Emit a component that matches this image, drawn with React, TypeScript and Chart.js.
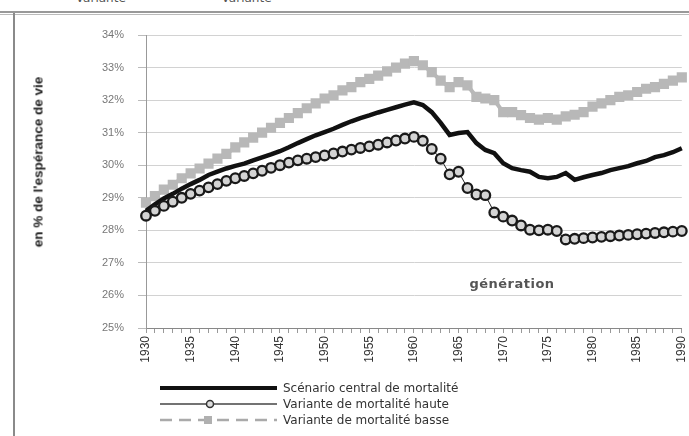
import React, { useEffect, useRef } from "react";
import { Chart, registerables } from "chart.js";

Chart.register(...registerables);

const years: string[] = [];
for (let y = 1930; y <= 1990; y++) years.push(String(y));

const yTicks = [25, 26, 27, 28, 29, 30, 31, 32, 33, 34];

// Scénario central de mortalité
const central = [
  28.6, 28.8, 28.98, 29.12, 29.28, 29.42, 29.55, 29.7, 29.8, 29.9,
  29.98, 30.05, 30.15, 30.24, 30.33, 30.43, 30.55, 30.68, 30.8, 30.92,
  31.02, 31.12, 31.24, 31.35, 31.45, 31.53, 31.62, 31.7, 31.78, 31.86,
  31.93, 31.85, 31.63, 31.3, 30.93, 30.99, 31.02, 30.68, 30.47, 30.37,
  30.06, 29.91, 29.85, 29.8, 29.64, 29.6, 29.64, 29.76, 29.55, 29.63,
  29.7, 29.76, 29.85, 29.91, 29.97, 30.06, 30.13, 30.25, 30.31, 30.4,
  30.52,
];

// Variante de mortalité haute
const haute = [
  28.45, 28.6, 28.75, 28.88, 29.0, 29.12, 29.22, 29.32, 29.42, 29.52,
  29.6, 29.67, 29.75, 29.83, 29.92, 30.0, 30.08, 30.15, 30.2, 30.25,
  30.3, 30.36, 30.42, 30.48, 30.53, 30.58, 30.63, 30.7, 30.76, 30.82,
  30.87, 30.75, 30.5, 30.2, 29.72, 29.8, 29.3, 29.1, 29.08, 28.55,
  28.42, 28.3, 28.15, 28.02, 28.0, 28.02, 27.98, 27.72, 27.74, 27.76,
  27.78, 27.8, 27.82, 27.84, 27.86, 27.88, 27.9, 27.92, 27.94, 27.96,
  27.98,
];

// Variante de mortalité basse
const basse = [
  28.85, 29.05, 29.25, 29.4, 29.6, 29.75, 29.9, 30.05, 30.2, 30.35,
  30.55, 30.7, 30.85, 31.0, 31.15, 31.3, 31.45, 31.6, 31.75, 31.9,
  32.05, 32.15, 32.3, 32.4, 32.55, 32.65, 32.75, 32.88, 33.0, 33.12,
  33.2, 33.07, 32.86, 32.6, 32.4, 32.55, 32.45, 32.1, 32.05, 32.0,
  31.63, 31.63, 31.54, 31.45, 31.4, 31.45, 31.4, 31.5, 31.55, 31.63,
  31.8, 31.9, 32.0, 32.1, 32.15, 32.25, 32.35, 32.4, 32.5, 32.6,
  32.7,
];

const legendLabels = [
  "Scénario central de mortalité",
  "Variante de mortalité haute",
  "Variante de mortalité basse",
];

export default function App() {
  const ref = useRef<HTMLCanvasElement | null>(null);

  useEffect(() => {
    if (!ref.current) return;
    const chart = new Chart(ref.current, {
      type: "line",
      data: {
        labels: years,
        datasets: [
          {
            label: legendLabels[1],
            data: haute,
            borderColor: "#222",
            borderWidth: 1,
            pointStyle: "circle",
            pointRadius: 4.8,
            pointBorderWidth: 2.3,
            pointBorderColor: "#1a1a1a",
            pointBackgroundColor: "#d4d4d4",
            tension: 0,
          },
          {
            label: legendLabels[0],
            data: central,
            borderColor: "#111",
            borderWidth: 4.5,
            pointRadius: 0,
            tension: 0,
          },
          {
            label: legendLabels[2],
            data: basse,
            borderColor: "#b8b8b8",
            borderWidth: 4,
            pointStyle: "rect",
            pointRadius: 7.2,
            pointBorderWidth: 0,
            pointBackgroundColor: "#b8b8b8",
            tension: 0,
          },
        ],
      },
      options: {
        responsive: false,
        animation: false,
        events: [],
        layout: { padding: { left: 0, top: 35, right: 6, bottom: 0 } },
        plugins: { legend: { display: false }, tooltip: { enabled: false } },
        scales: {
          x: {
            type: "category",
            offset: false,
            afterFit: (s: any) => {
              s.height = 108;
              s.paddingLeft = 0;
              s.paddingRight = 0;
            },
            border: { display: true, color: "#888", width: 1 },
            grid: {
              display: true,
              drawOnChartArea: false,
              drawTicks: true,
              tickLength: 5,
              color: "#999",
            },
            ticks: {
              autoSkip: false,
              maxRotation: 90,
              minRotation: 90,
              padding: 3,
              color: "#333",
              font: { family: "Liberation Sans", size: 12 },
              callback: (_v: any, i: number) =>
                Number(years[i]) % 5 === 0 ? years[i] : "",
            },
          },
          y: {
            min: 25,
            max: 34,
            afterFit: (s: any) => {
              s.width = 146;
            },
            afterBuildTicks: (s: any) => {
              s.ticks = yTicks.map((v) => ({ value: v }));
            },
            border: { display: true, color: "#999", width: 1 },
            grid: {
              color: "#d2d2d2",
              tickLength: 8,
              tickColor: "#bbb",
            },
            ticks: {
              padding: 14,
              color: "#777",
              font: { family: "Liberation Sans", size: 11 },
              callback: (v: any) => v + "%",
            },
          },
        },
      },
    });
    return () => chart.destroy();
  }, []);

  const legendRow = (i: number, top: number) => (
    <div
      key={i}
      style={{
        position: "absolute",
        left: 283,
        top: top - 9,
        fontFamily: "DejaVu Sans",
        fontSize: 12,
        color: "#333",
        whiteSpace: "nowrap",
        lineHeight: "18px",
      }}
    >
      {legendLabels[i]}
    </div>
  );

  return (
    <div
      style={{
        position: "absolute",
        left: 0,
        top: 0,
        width: 689,
        height: 436,
        background: "#fff",
        overflow: "hidden",
      }}
    >
      {/* cut-off text from above */}
      <div
        style={{
          position: "absolute",
          left: 60,
          top: -9,
          fontFamily: "DejaVu Sans",
          fontSize: 12,
          color: "#555",
          whiteSpace: "nowrap",
        }}
      >
        <span>— Variante</span>
        <span style={{ marginLeft: 80 }}>— Variante</span>
      </div>
      {/* frame */}
      <div style={{ position: "absolute", left: 0, top: 11, width: 689, height: 2, background: "#999" }} />
      <div style={{ position: "absolute", left: 0, top: 14, width: 689, height: 1, background: "#bbb" }} />
      <div style={{ position: "absolute", left: 13, top: 13, width: 2, height: 423, background: "#8a8a8a" }} />
      <canvas
        ref={ref}
        width={689}
        height={436}
        style={{ position: "absolute", left: 0, top: 0, width: 689, height: 436 }}
      />
      {/* y-axis title */}
      <div
        style={{
          position: "absolute",
          left: 38,
          top: 162,
          transform: "translate(-50%, -50%) rotate(-90deg)",
          fontFamily: "Liberation Sans",
          fontWeight: "bold",
          fontSize: 13.5,
          color: "#222",
          whiteSpace: "nowrap",
        }}
      >
        en % de l'espérance de vie
      </div>
      {/* annotation */}
      <div
        style={{
          position: "absolute",
          left: 512,
          top: 283,
          transform: "translate(-50%, -50%)",
          fontFamily: "DejaVu Sans",
          fontWeight: "bold",
          fontSize: 13,
          letterSpacing: 0.5,
          color: "#555",
          whiteSpace: "nowrap",
        }}
      >
        génération
      </div>
      {/* legend samples */}
      <svg
        width={689}
        height={436}
        style={{ position: "absolute", left: 0, top: 0, pointerEvents: "none" }}
      >
        <line x1={160} y1={388} x2={277} y2={388} stroke="#111" strokeWidth={4} />
        <line x1={160} y1={404} x2={277} y2={404} stroke="#444" strokeWidth={1.3} />
        <circle cx={210} cy={404} r={3.5} fill="#ddd" stroke="#333" strokeWidth={1.5} />
        <line
          x1={160}
          y1={420}
          x2={277}
          y2={420}
          stroke="#aaa"
          strokeWidth={2.5}
          strokeDasharray="12 7"
        />
        <rect x={204} y={416} width={8} height={8} fill="#b0b0b0" />
      </svg>
      {legendRow(0, 388)}
      {legendRow(1, 404)}
      {legendRow(2, 420)}
    </div>
  );
}
